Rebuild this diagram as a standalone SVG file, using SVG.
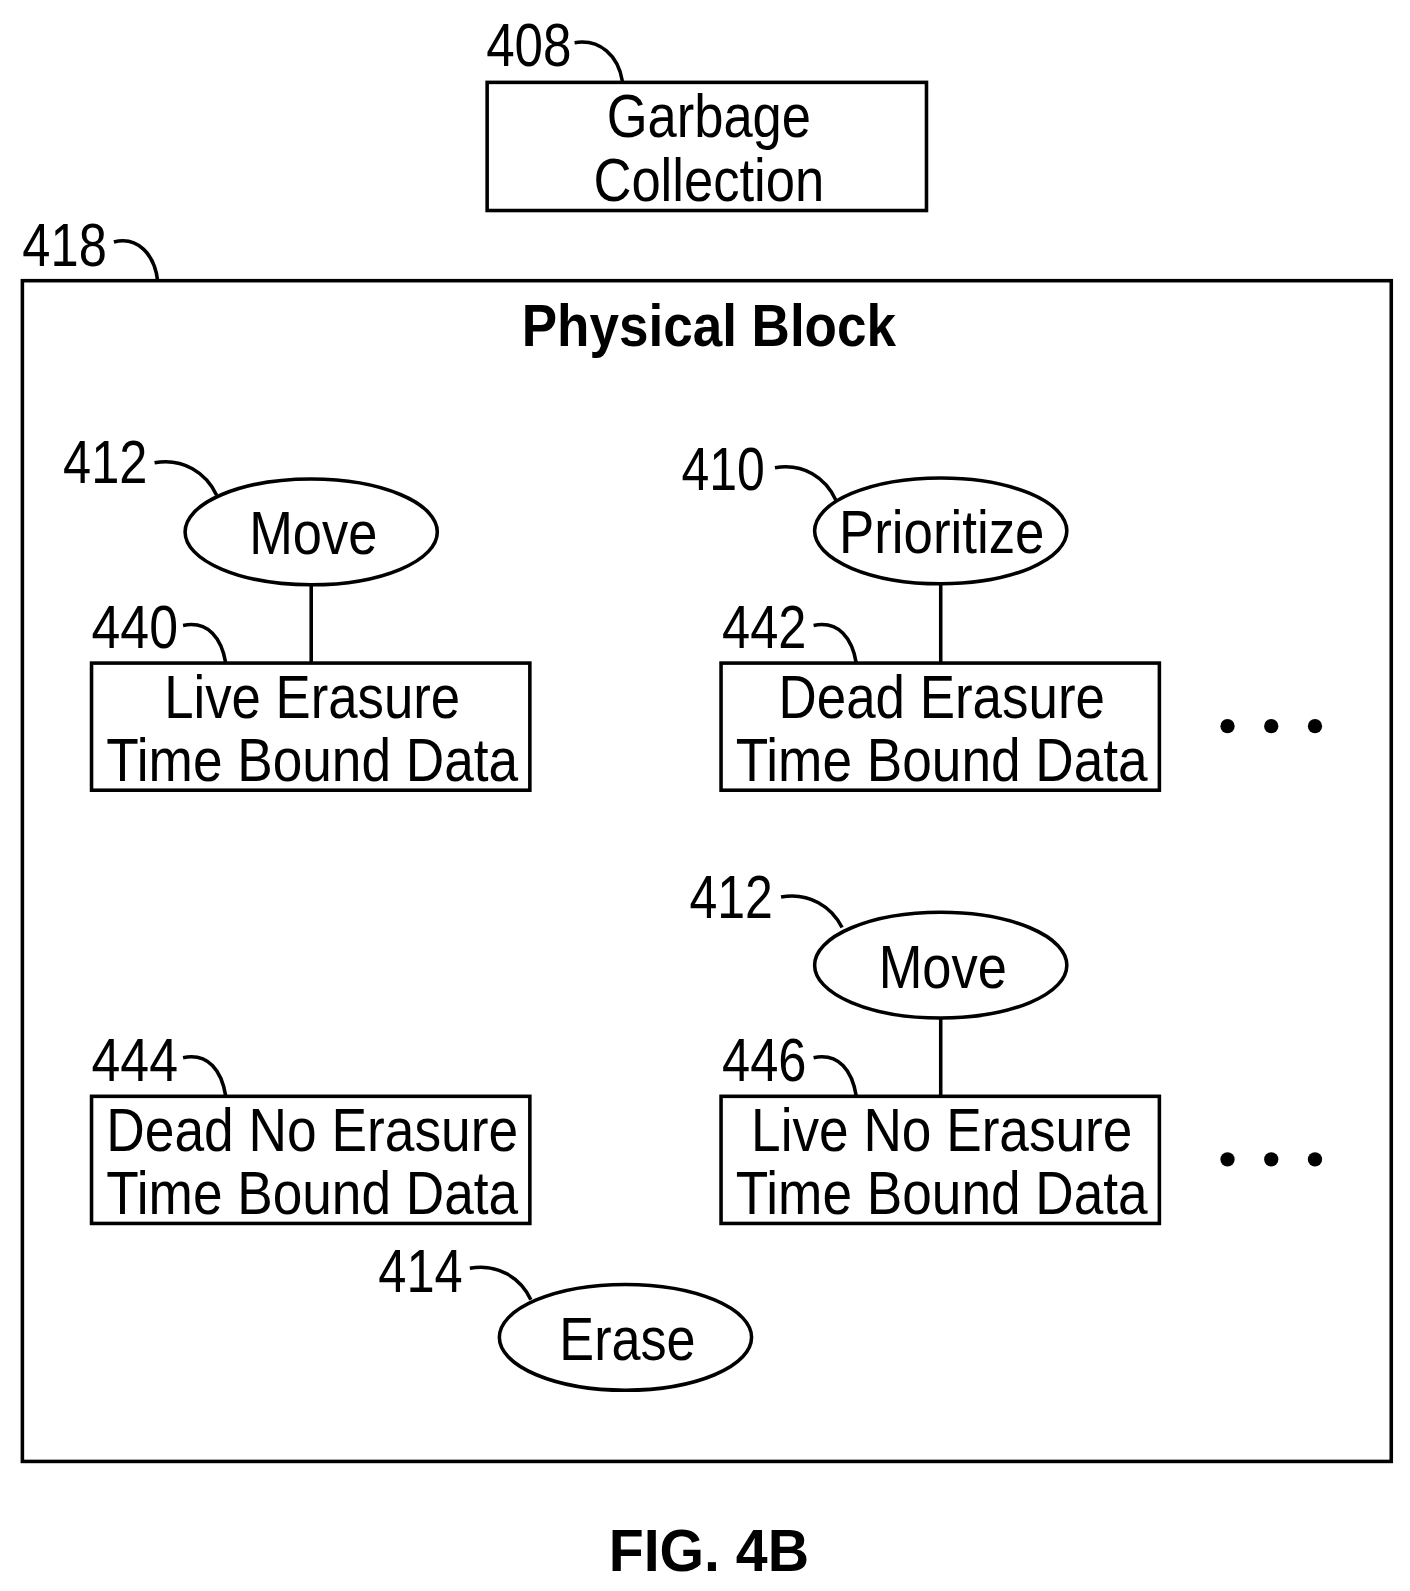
<svg xmlns="http://www.w3.org/2000/svg" width="1410" height="1591" viewBox="0 0 1410 1591">
<style>
.s{fill:none;stroke:#000;stroke-width:3.5}
.t{font-family:"Liberation Sans",Arial,sans-serif;font-size:60px;fill:#000}
.m{text-anchor:middle}
.b{font-weight:bold;font-size:58px}
</style>
<rect width="1410" height="1591" fill="#fff"/>
<g transform="scale(1.017)">
<g id="connectors">
<path class="s" d="M565,42 C590,38 608,55 612,80"/>
<path class="s" d="M112,238 C135,232 152,250 155,276"/>
<path class="s" d="M152,455 C180,450 203,465 213,487"/>
<path class="s" d="M180,615 C205,610 218,628 222,652"/>
<path class="s" d="M762,460 C790,455 812,470 822,492"/>
<path class="s" d="M800,615 C825,610 838,628 842,652"/>
<path class="s" d="M768,882 C796,877 818,892 828,912"/>
<path class="s" d="M180,1040 C205,1035 218,1053 222,1078"/>
<path class="s" d="M800,1040 C825,1035 838,1053 842,1078"/>
<path class="s" d="M462,1247 C490,1242 512,1257 522,1278"/>
<line class="s" x1="306" y1="575" x2="306" y2="652"/>
<line class="s" x1="925" y1="574" x2="925" y2="652"/>
<line class="s" x1="925" y1="1001" x2="925" y2="1078"/>
</g>
<g id="n408">
<text class="t" x="478" y="65" textLength="84" lengthAdjust="spacingAndGlyphs">408</text>
<rect class="s" x="479" y="81" width="432" height="126"/>
<text class="t m" x="697" y="135" textLength="201" lengthAdjust="spacingAndGlyphs">Garbage</text>
<text class="t m" x="697" y="198" textLength="227" lengthAdjust="spacingAndGlyphs">Collection</text>
</g>
<g id="n418">
<text class="t" x="22" y="262" textLength="83" lengthAdjust="spacingAndGlyphs">418</text>
<rect class="s" x="22" y="276" width="1346" height="1161"/>
<text class="t m b" x="697" y="340" textLength="368" lengthAdjust="spacingAndGlyphs">Physical Block</text>
</g>
<g id="n412a">
<text class="t" x="62" y="475" textLength="83" lengthAdjust="spacingAndGlyphs">412</text>
<ellipse class="s" cx="306" cy="523" rx="124" ry="52"/>
<text class="t m" x="308" y="545" textLength="126" lengthAdjust="spacingAndGlyphs">Move</text>
</g>
<g id="n440">
<text class="t" x="90" y="637" textLength="85" lengthAdjust="spacingAndGlyphs">440</text>
<rect class="s" x="90" y="652" width="431" height="125"/>
<text class="t m" x="307" y="706" textLength="291" lengthAdjust="spacingAndGlyphs">Live Erasure</text>
<text class="t m" x="307" y="768" textLength="405" lengthAdjust="spacingAndGlyphs">Time Bound Data</text>
</g>
<g id="n410">
<text class="t" x="670" y="482" textLength="82" lengthAdjust="spacingAndGlyphs">410</text>
<ellipse class="s" cx="925" cy="522" rx="124" ry="52"/>
<text class="t m" x="926" y="544" textLength="202" lengthAdjust="spacingAndGlyphs">Prioritize</text>
</g>
<g id="n442">
<text class="t" x="710" y="637" textLength="83" lengthAdjust="spacingAndGlyphs">442</text>
<rect class="s" x="709" y="652" width="431" height="125"/>
<text class="t m" x="926" y="706" textLength="321" lengthAdjust="spacingAndGlyphs">Dead Erasure</text>
<text class="t m" x="926" y="768" textLength="405" lengthAdjust="spacingAndGlyphs">Time Bound Data</text>
</g>
<g id="n412b">
<text class="t" x="678" y="903" textLength="82" lengthAdjust="spacingAndGlyphs">412</text>
<ellipse class="s" cx="925" cy="949" rx="124" ry="52"/>
<text class="t m" x="927" y="971" textLength="126" lengthAdjust="spacingAndGlyphs">Move</text>
</g>
<g id="n444">
<text class="t" x="90" y="1063" textLength="85" lengthAdjust="spacingAndGlyphs">444</text>
<rect class="s" x="90" y="1078" width="431" height="125"/>
<text class="t m" x="307" y="1132" textLength="405" lengthAdjust="spacingAndGlyphs">Dead No Erasure</text>
<text class="t m" x="307" y="1194" textLength="405" lengthAdjust="spacingAndGlyphs">Time Bound Data</text>
</g>
<g id="n446">
<text class="t" x="710" y="1063" textLength="83" lengthAdjust="spacingAndGlyphs">446</text>
<rect class="s" x="709" y="1078" width="431" height="125"/>
<text class="t m" x="926" y="1132" textLength="375" lengthAdjust="spacingAndGlyphs">Live No Erasure</text>
<text class="t m" x="926" y="1194" textLength="405" lengthAdjust="spacingAndGlyphs">Time Bound Data</text>
</g>
<g id="n414">
<text class="t" x="372" y="1270" textLength="83" lengthAdjust="spacingAndGlyphs">414</text>
<ellipse class="s" cx="615" cy="1315" rx="124" ry="52"/>
<text class="t m" x="617" y="1337" textLength="134" lengthAdjust="spacingAndGlyphs">Erase</text>
</g>
<g id="dots">
<circle cx="1207" cy="714" r="7"/><circle cx="1250" cy="714" r="7"/><circle cx="1293" cy="714" r="7"/>
<circle cx="1207" cy="1140" r="7"/><circle cx="1250" cy="1140" r="7"/><circle cx="1293" cy="1140" r="7"/>
</g>
<text class="t m b" x="697" y="1545" font-size="62" textLength="197" lengthAdjust="spacingAndGlyphs">FIG. 4B</text>
</g>
</svg>
